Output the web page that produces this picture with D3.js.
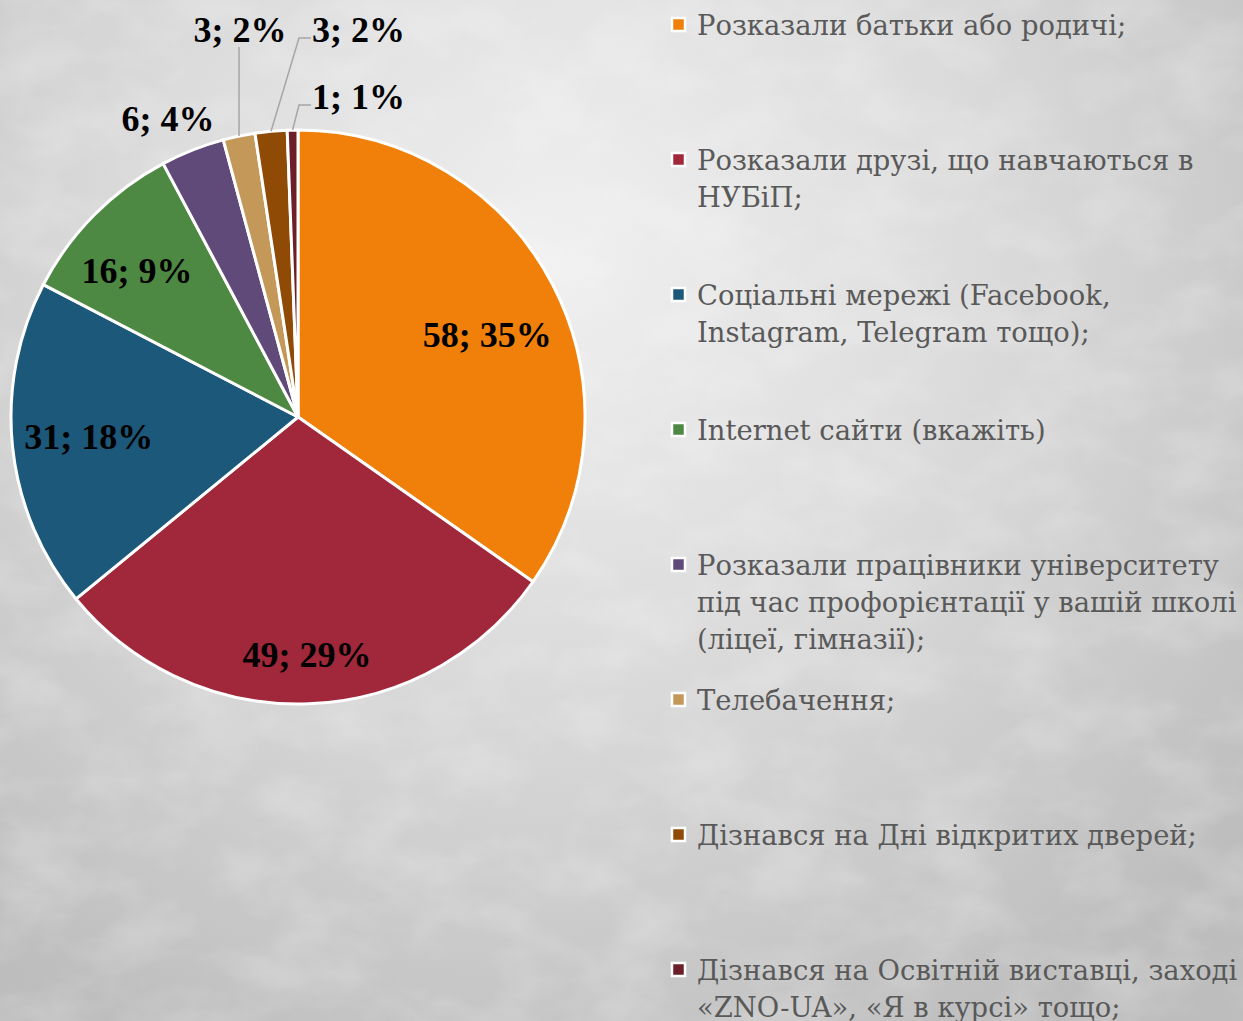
<!DOCTYPE html>
<html>
<head>
<meta charset="utf-8">
<script src="https://cdn.jsdelivr.net/npm/d3@7"></script>
<style>
  html, body { margin: 0; padding: 0; }
  body { width: 1243px; height: 1021px; overflow: hidden; }
</style>
</head>
<body>
<div id="chart"></div>
<script>
// data
var categories = [
  "Розказали батьки або родичі;",
  "Розказали друзі, що навчаються в НУБіП;",
  "Соціальні мережі (Facebook, Instagram, Telegram тощо);",
  "Internet сайти (вкажіть)",
  "Розказали працівники університету під час профорієнтації у вашій школі (ліцеї, гімназії);",
  "Телебачення;",
  "Дізнався на Дні відкритих дверей;",
  "Дізнався на Освітній виставці, заході «ZNO-UA», «Я в курсі» тощо;"
];
var counts = [58, 49, 31, 16, 6, 3, 3, 1];
var percents = ["35%", "29%", "18%", "9%", "4%", "2%", "2%", "1%"];
var colors = ["#f0800a", "#a0283a", "#1c587a", "#4e8943", "#604a7a", "#c49858", "#8f4a05", "#6c1e29"];

// legend line breaks as in the picture
var legendLines = [
  ["Розказали батьки або родичі;"],
  ["Розказали друзі, що навчаються в", "НУБіП;"],
  ["Соціальні мережі (Facebook,", "Instagram, Telegram тощо);"],
  ["Internet сайти (вкажіть)"],
  ["Розказали працівники університету", "під час профорієнтації у вашій школі", "(ліцеї, гімназії);"],
  ["Телебачення;"],
  ["Дізнався на Дні відкритих дверей;"],
  ["Дізнався на Освітній виставці, заході", "«ZNO-UA», «Я в курсі» тощо;"]
];

var W = 1243, H = 1021;
var cx = 298, cy = 417, R = 287;

var svg = d3.select("#chart").append("svg")
  .attr("width", W).attr("height", H);

var defs = svg.append("defs");
var grad = defs.append("radialGradient").attr("id", "bg")
  .attr("gradientUnits", "userSpaceOnUse")
  .attr("cx", 560).attr("cy", 250).attr("r", 900);
grad.append("stop").attr("offset", "0").attr("stop-color", "#f0f0f0");
grad.append("stop").attr("offset", "0.45").attr("stop-color", "#dcdcdc");
grad.append("stop").attr("offset", "1").attr("stop-color", "#bdbdbd");

var noise = defs.append("filter").attr("id", "noise")
  .attr("x", 0).attr("y", 0).attr("width", "100%").attr("height", "100%");
noise.append("feTurbulence").attr("type", "fractalNoise")
  .attr("baseFrequency", "0.012 0.02").attr("numOctaves", 4).attr("seed", 3);
noise.append("feColorMatrix").attr("type", "matrix")
  .attr("values", "0 0 0 0 1  0 0 0 0 1  0 0 0 0 1  0 0 0 0.9 -0.35");

svg.append("rect").attr("width", W).attr("height", H).attr("fill", "url(#bg)");
svg.append("rect").attr("width", W).attr("height", H)
  .attr("filter", "url(#noise)").attr("opacity", 0.5);

// pie
var pie = d3.pie().sort(null).value(function (d) { return d; });
var arcs = pie(counts);
var arc = d3.arc().innerRadius(0).outerRadius(R);

var g = svg.append("g").attr("transform", "translate(" + cx + "," + cy + ")");

g.selectAll("path.slice")
  .data(arcs)
  .enter().append("path")
  .attr("class", "slice")
  .attr("d", arc)
  .attr("fill", function (d, i) { return colors[i]; })
  .attr("stroke", "#ffffff")
  .attr("stroke-width", 3)
  .attr("stroke-linejoin", "round");

function labelText(i) { return counts[i] + "; " + percents[i]; }

// inside labels: centroid pushed out along the mid angle
var insideRadius = [0.72, 0.83, 0.74, 0.76];
var insideShift = [[6, 13], [0, 0], [2, -2], [-6, 7]];
var labelFont = "'Liberation Serif', 'Times New Roman', serif";

arcs.slice(0, 4).forEach(function (d, i) {
  var a = (d.startAngle + d.endAngle) / 2;
  var rr = R * insideRadius[i];
  g.append("text")
    .attr("x", Math.sin(a) * rr + insideShift[i][0])
    .attr("y", -Math.cos(a) * rr + insideShift[i][1])
    .attr("text-anchor", "middle")
    .attr("dominant-baseline", "central")
    .attr("font-family", labelFont)
    .attr("font-weight", "bold")
    .attr("font-size", 36)
    .attr("fill", "#000")
    .text(labelText(i));
});

// outside labels (offsets from the pie centre) with leader lines
var outside = [
  { i: 4, x: -130, y: -298, anchor: "middle", leader: false },
  { i: 5, x: -58, y: -387, anchor: "middle", leader: "vert", ly: -370 },
  { i: 6, x: 14, y: -387, anchor: "start", leader: "elbow", ly: -379 },
  { i: 7, x: 14, y: -320, anchor: "start", leader: "elbow", ly: -312 }
];

outside.forEach(function (o) {
  var d = arcs[o.i];
  var a = (d.startAngle + d.endAngle) / 2;
  var ex = Math.sin(a) * R, ey = -Math.cos(a) * R;
  if (o.leader === "vert") {
    g.append("path")
      .attr("d", d3.line()([[ex, ey], [ex, o.ly]]))
      .attr("fill", "none").attr("stroke", "#a6a6a6").attr("stroke-width", 1.5);
  } else if (o.leader === "elbow") {
    g.append("path")
      .attr("d", d3.line()([[ex, ey], [o.x - 13, o.ly], [o.x - 1, o.ly]]))
      .attr("fill", "none").attr("stroke", "#a6a6a6").attr("stroke-width", 1.5);
  }
  g.append("text")
    .attr("x", o.x)
    .attr("y", o.y)
    .attr("text-anchor", o.anchor)
    .attr("dominant-baseline", "central")
    .attr("font-family", labelFont)
    .attr("font-weight", "bold")
    .attr("font-size", 36)
    .attr("fill", "#000")
    .text(labelText(o.i));
});

// legend
var legendFont = "'DejaVu Serif', 'Liberation Serif', serif";
var legend = svg.append("g").attr("transform", "translate(671,0)");
var itemStep = 135, lineStep = 37, firstBase = 35;

legendLines.forEach(function (lines, i) {
  var base = firstBase + i * itemStep;
  legend.append("rect")
    .attr("x", 1).attr("y", base - 17)
    .attr("width", 13).attr("height", 13)
    .attr("fill", colors[i])
    .attr("stroke", "#ffffff").attr("stroke-width", 2.5);
  var t = legend.append("text")
    .attr("font-family", legendFont)
    .attr("font-size", 27.4)
    .attr("fill", "#595959");
  lines.forEach(function (ln, k) {
    t.append("tspan").attr("x", 26).attr("y", base + k * lineStep).text(ln);
  });
});
</script>
</body>
</html>
